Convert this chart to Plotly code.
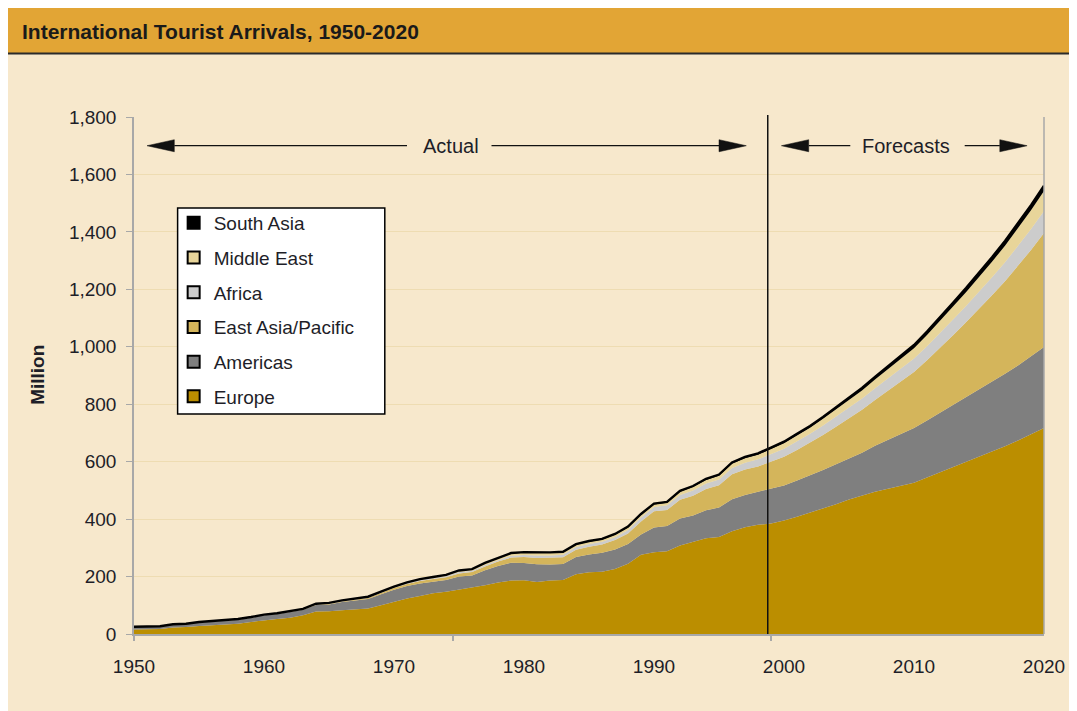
import plotly.graph_objects as go

# ---------------- data (million arrivals) ----------------
years = list(range(1950, 2021))

europe = [16, 16.5, 17, 23, 24, 28, 30, 34, 36, 42,
          48, 52, 57, 65, 78, 79, 83, 86, 89, 100,
          112, 124, 132, 142, 147, 154, 162, 170, 179, 186,
          187, 181, 186, 188, 208, 215, 217, 226, 245, 276,
          285, 288, 308, 320, 333, 338, 358, 372, 380, 385,
          395, 408, 422, 437, 452, 468, 482, 495, 506, 516,
          527, 545, 563, 582, 600, 618, 636, 654, 674, 695, 717]

americas = [8, 8.5, 8.6, 9.5, 10, 12, 12.5, 13.5, 14, 15,
            17, 17.5, 18.5, 19, 23, 24, 28, 31, 33, 38,
            42, 43, 44, 40, 41, 46, 42, 52, 58, 62,
            60, 62, 56, 56, 60, 62, 66, 68, 68, 70,
            86, 88, 94, 93, 98, 102, 111, 112, 115, 122,
            122, 126, 130, 134, 139, 144, 149, 160, 170, 180,
            190, 198, 207, 216, 225, 234, 243, 252, 261, 271, 282]

east_asia_pacific = [0.2, 0.2, 0.3, 0.3, 0.4, 0.4, 0.5, 0.5, 0.6, 0.6,
                     0.7, 0.8, 1.0, 1.2, 1.4, 1.6, 2.0, 2.5, 3.5, 5.0,
                     6, 7, 8.5, 9.5, 10, 11, 11.5, 13, 15, 18,
                     21, 22, 23, 23, 25, 27, 29, 33, 37, 46,
                     56, 56, 65, 68, 74, 78, 87, 89, 88, 93,
                     100, 107, 114, 122, 131, 140, 150, 160, 171, 183,
                     195, 210, 225, 242, 260, 279, 300, 322, 346, 371, 397]

africa = [0.5, 0.5, 0.5, 0.6, 0.6, 0.7, 0.7, 0.7, 0.8, 0.8,
          0.8, 0.9, 1.0, 1.1, 1.2, 1.4, 1.6, 1.8, 2.0, 2.2,
          2.4, 2.8, 3.2, 3.5, 3.8, 4.7, 4.5, 5.5, 6.0, 6.8,
          7.2, 8.0, 8.5, 9.0, 9.5, 9.7, 9.5, 10, 12, 13.5,
          15, 16, 17, 18.5, 19, 20, 22, 23, 25, 27,
          28, 30, 31, 33, 35, 37, 39, 41, 43, 45,
          47, 49, 52, 55, 57, 60, 63, 66, 70, 73, 77]

middle_east = [0.2, 0.2, 0.3, 0.3, 0.4, 0.4, 0.4, 0.5, 0.5, 0.5,
               0.6, 0.7, 0.8, 1.0, 1.5, 1.8, 1.8, 1.5, 1.6, 1.8,
               1.9, 2.0, 2.3, 2.5, 3.0, 4.2, 4.5, 5.2, 6.0, 7.0,
               7.5, 8.5, 8.5, 8.0, 8.0, 7.5, 7.0, 8.5, 9.0, 9.5,
               9.0, 9.0, 11, 12, 12.5, 13, 15, 16, 16, 17,
               19, 20, 21, 23, 24, 26, 28, 30, 32, 34,
               36, 39, 42, 45, 48, 51, 54, 58, 61, 65, 69]

south_asia = [0.1, 0.1, 0.1, 0.1, 0.1, 0.1, 0.1, 0.1, 0.1, 0.2,
              0.2, 0.2, 0.3, 0.3, 0.4, 0.4, 0.5, 0.6, 0.7, 0.8,
              0.9, 1.0, 1.0, 1.1, 1.2, 1.4, 1.4, 1.6, 1.9, 2.1,
              2.2, 2.3, 2.3, 2.4, 2.5, 2.5, 2.6, 2.7, 2.8, 3.0,
              3.2, 3.2, 3.5, 3.7, 4.0, 4.2, 4.4, 4.6, 5.0, 5.0,
              5.5, 6, 6.5, 7, 7.5, 8, 8.6, 9.2, 9.8, 10.4,
              11, 11.8, 12.6, 13.4, 14.2, 15, 15.8, 16.6, 17.4, 18.2, 19]

series_names = ["Europe", "Americas", "East Asia/Pacific", "Africa", "Middle East", "South Asia"]
series_values = [europe, americas, east_asia_pacific, africa, middle_east, south_asia]

x_tick_vals = [1950, 1960, 1970, 1980, 1990, 2000, 2010, 2020]
y_tick_vals = [0, 200, 400, 600, 800, 1000, 1200, 1400, 1600, 1800]
divider_year = 1998.75

# ---------------- styles ----------------
colors = ["#BB8E00", "#7F7F7F", "#D4B55B", "#CCCCCC", "#E8D59A", "#000000"]
CREAM = "#F7E8CC"
BAND = "#E2A535"
AXIS = "#A8A8A8"
GRID = "#EEDCB2"
TEXT = "#1E1E28"
FONT = "Liberation Sans, Arial, sans-serif"
NARROW = "Liberation Sans Narrow, Arial Narrow, Liberation Sans, sans-serif"

OFF = 8  # page body margin
W, H = 1077 - OFF, 711 - OFF
ML, MR, MT, MB = 126, 25, 109, 77
PW, PH = W - ML - MR, H - MT - MB


def px_x(p):  # page pixel -> paper x
    return (p - OFF - ML) / PW


def px_y(p):  # page pixel -> paper y
    return (H - MB - (p - OFF)) / PH


fig = go.Figure()

for name, vals, col in zip(series_names, series_values, colors):
    top = name == "South Asia"
    fig.add_trace(go.Scatter(
        x=years, y=vals, name=name, stackgroup="one", mode="lines",
        line=dict(width=2.4 if top else 0, color="#000000" if top else col),
        fillcolor=col, showlegend=False, hoverinfo="x+y+name"))

# legend entries (square swatches)
for name, col in zip(reversed(series_names), reversed(colors)):
    fig.add_trace(go.Scatter(
        x=[None], y=[None], mode="markers", name=name, legendgroup=name,
        marker=dict(symbol="square", size=12, color=col,
                    line=dict(color="#000000", width=2))))

# invisible trace to carry the tick-mark axis
fig.add_trace(go.Scatter(x=[1950], y=[0], xaxis="x2", mode="none",
                         showlegend=False, hoverinfo="skip"))

shapes = [
    dict(type="rect", xref="paper", yref="paper", x0=px_x(0), x1=px_x(1090),
         y0=px_y(53), y1=px_y(0), fillcolor=BAND, line=dict(width=0), layer="below"),
    dict(type="line", xref="paper", yref="paper", x0=px_x(0), x1=px_x(1090),
         y0=px_y(53.5), y1=px_y(53.5), line=dict(color="#2A2A2A", width=2), layer="below"),
    dict(type="line", xref="paper", yref="paper", x0=1, x1=1, y0=0, y1=1,
         line=dict(color=AXIS, width=1.5)),
    dict(type="line", xref="x", yref="paper", x0=divider_year, x1=divider_year,
         y0=0, y1=1.004, line=dict(color="#111111", width=1.5)),
    # legend frame
    dict(type="rect", xref="paper", yref="paper", x0=px_x(178), x1=px_x(387),
         y0=px_y(414), y1=px_y(208), fillcolor="#FFFFFF",
         line=dict(color="#000000", width=1.5), layer="above"),
]

# arrows: (tip, base, line end)
arrow_y = 1700
head_h = 21
arrows = [(1951.0, 1953.1, 1971.0), (1997.1, 1995.0, 1977.5),
          (1999.8, 2001.9, 2005.1), (2018.7, 2016.6, 2013.9)]
for tip, base, end in arrows:
    shapes.append(dict(type="line", xref="x", yref="y", x0=base, x1=end,
                       y0=arrow_y, y1=arrow_y, line=dict(color="#111111", width=1.3)))
    shapes.append(dict(type="path", xref="x", yref="y",
                       path=f"M {tip},{arrow_y} L {base},{arrow_y + head_h} L {base},{arrow_y - head_h} Z",
                       fillcolor="#111111", line=dict(color="#111111", width=0.5)))

annotations = [
    dict(text="<b>International Tourist Arrivals, 1950-2020</b>", xref="paper", yref="paper",
         x=px_x(19), y=px_y(31), xanchor="left", yanchor="middle", showarrow=False,
         font=dict(family=NARROW, size=21, color="#1A1A1A")),
    dict(text="<b>Million</b>", xref="paper", yref="paper", x=px_x(36), y=px_y(375),
         textangle=-90, xanchor="center", yanchor="middle", showarrow=False,
         font=dict(family=NARROW, size=19, color=TEXT)),
    dict(text="Actual", xref="x", yref="y", x=1974.4, y=arrow_y, showarrow=False,
         xanchor="center", yanchor="middle", font=dict(family=FONT, size=20, color=TEXT)),
    dict(text="Forecasts", xref="x", yref="y", x=2009.4, y=arrow_y, showarrow=False,
         xanchor="center", yanchor="middle", font=dict(family=FONT, size=20, color=TEXT)),
]

fig.update_layout(
    width=W, height=H,
    margin=dict(l=ML, r=MR, t=MT, b=MB),
    paper_bgcolor=CREAM,
    plot_bgcolor="rgba(0,0,0,0)",
    font=dict(family=FONT, size=19, color=TEXT),
    shapes=shapes,
    annotations=annotations,
    showlegend=True,
    legend=dict(x=px_x(174), y=px_y(204), xanchor="left", yanchor="top",
                bgcolor="rgba(0,0,0,0)", borderwidth=0,
                font=dict(family=FONT, size=19, color=TEXT),
                traceorder="grouped", tracegroupgap=7, itemsizing="constant"),
    xaxis=dict(range=[1950, 2020], tickvals=x_tick_vals, ticks="", showgrid=False,
               zeroline=False, showline=True, linecolor=AXIS, linewidth=2,
               tickfont=dict(size=19), ticklabelstandoff=14, fixedrange=True),
    xaxis2=dict(range=[1950, 2020], overlaying="x", anchor="y", side="bottom",
                tickvals=[1950, 1974.55, 1999.03], ticks="outside", ticklen=6,
                tickcolor=AXIS, tickwidth=1.5, showticklabels=False, showgrid=False,
                zeroline=False, showline=False),
    yaxis=dict(range=[0, 1800], tickvals=y_tick_vals, tickformat=",", ticks="outside",
               ticklen=6, tickcolor=AXIS, tickwidth=1.2, showline=True, linecolor=AXIS,
               linewidth=1.5, showgrid=True, gridcolor=GRID, gridwidth=1.2,
               zeroline=False, tickfont=dict(size=19), ticklabelstandoff=6),
)

fig.write_html("out.html")
